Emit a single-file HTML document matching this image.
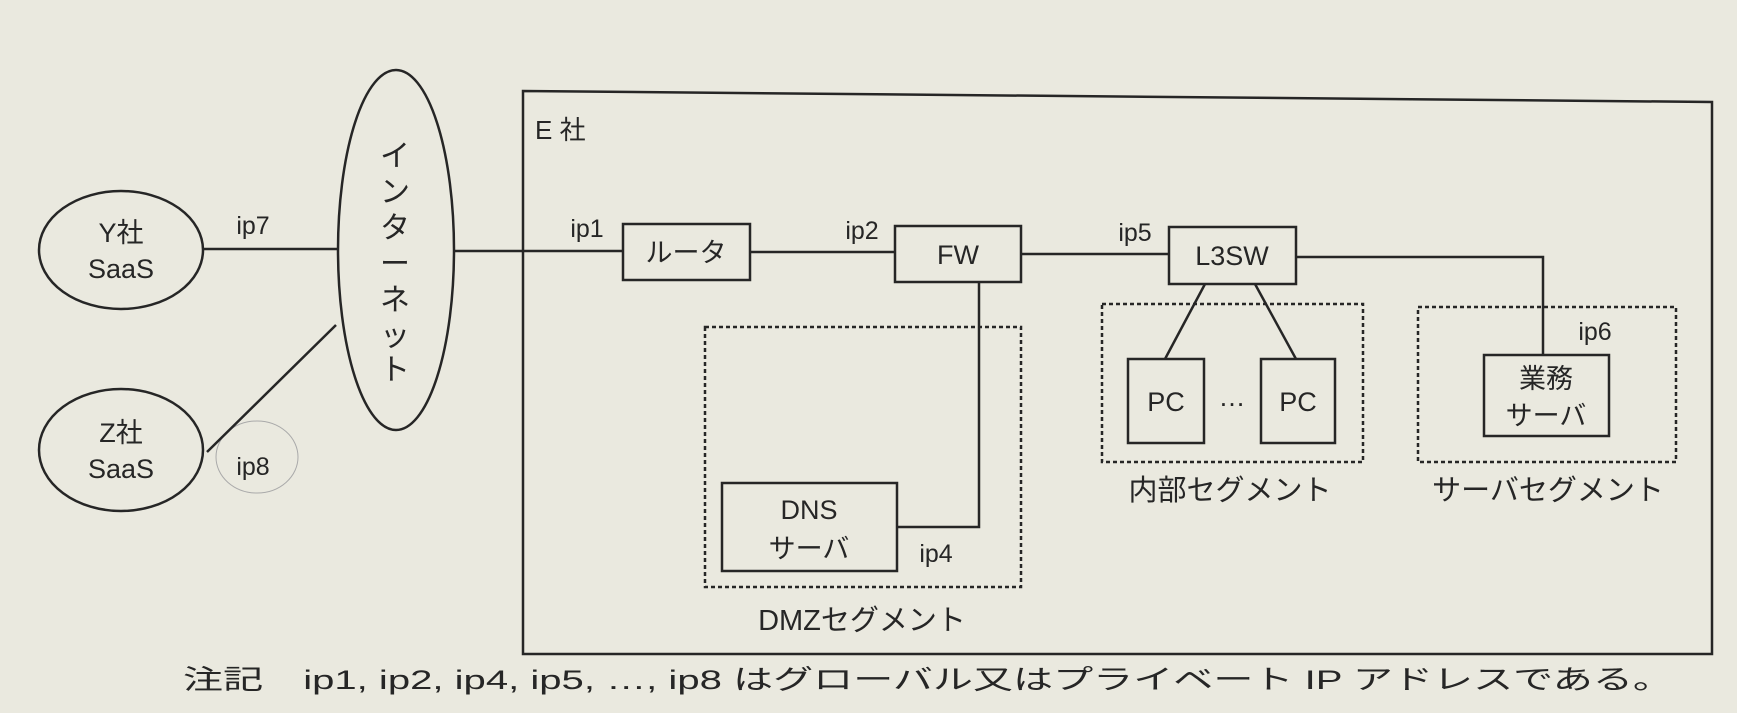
<!DOCTYPE html>
<html><head><meta charset="utf-8"><style>
html,body{margin:0;padding:0;background:#eae9df;}
svg{display:block}
text{font-family:"Liberation Sans","Noto Sans CJK JP",sans-serif;fill:#262626;}
</style></head><body>
<svg width="1737" height="713" viewBox="0 0 1737 713" xmlns="http://www.w3.org/2000/svg">
<rect width="1737" height="713" fill="#eae9df"/>
<g stroke="#262626" stroke-width="2.5" fill="none">
<polygon points="523,91 1712,102 1712,654 523,654"/>
<ellipse cx="121" cy="250" rx="82" ry="59"/>
<ellipse cx="121" cy="450" rx="82" ry="61"/>
<ellipse cx="396" cy="250" rx="58" ry="180"/>
<ellipse cx="257" cy="457" rx="41" ry="36" stroke="#aaa" stroke-width="1"/>
<line x1="203" y1="249" x2="338" y2="249"/>
<line x1="207" y1="452" x2="336" y2="325"/>
<line x1="454" y1="251" x2="623" y2="251"/>
<line x1="750" y1="252" x2="895" y2="252"/>
<line x1="1021" y1="254" x2="1169" y2="254"/>
<polyline points="1296,257 1543,257 1543,355"/>
<polyline points="979,282 979,527 897,527"/>
<line x1="1205" y1="284" x2="1165" y2="359"/>
<line x1="1255" y1="284" x2="1296" y2="359"/>
<rect x="623" y="224" width="127" height="56"/>
<rect x="895" y="226" width="126" height="56"/>
<rect x="1169" y="227" width="127" height="57"/>
<rect x="1484" y="355" width="125" height="81"/>
<rect x="1128" y="359" width="76" height="84"/>
<rect x="1261" y="359" width="74" height="84"/>
<rect x="722" y="483" width="175" height="88"/>
</g>
<g stroke="#262626" stroke-width="2.5" fill="none" stroke-dasharray="4,3">
<rect x="705" y="327" width="316" height="260"/>
<rect x="1102" y="304" width="261" height="158"/>
<rect x="1418" y="307" width="258" height="155"/>
</g>
<g font-size="25">
<text x="253" y="234" text-anchor="middle">ip7</text>
<text x="253" y="475" text-anchor="middle">ip8</text>
<text x="587" y="237" text-anchor="middle">ip1</text>
<text x="862" y="239" text-anchor="middle">ip2</text>
<text x="1135" y="241" text-anchor="middle">ip5</text>
<text x="1595" y="340" text-anchor="middle">ip6</text>
<text x="936" y="562" text-anchor="middle">ip4</text>
</g>
<g font-size="27" text-anchor="middle">
<text x="121" y="242">Y社</text>
<text x="121" y="278">SaaS</text>
<text x="121" y="442">Z社</text>
<text x="121" y="478">SaaS</text>
<text x="686" y="262">ルータ</text>
<text x="958" y="264">FW</text>
<text x="1232" y="265">L3SW</text>
<text x="1546" y="388">業務</text>
<text x="1546" y="425">サーバ</text>
<text x="1166" y="411">PC</text>
<text x="1298" y="411">PC</text>
<text x="1232" y="406">…</text>
<text x="809" y="519">DNS</text>
<text x="809" y="558">サーバ</text>
<text x="1230" y="500" font-size="29">内部セグメント</text>
<text x="1548" y="500" font-size="29">サーバセグメント</text>
<text x="862" y="630" font-size="29">DMZセグメント</text>
</g>
<g font-size="30" text-anchor="middle">
<text x="395" y="166">イ</text>
<text x="395" y="202">ン</text>
<text x="395" y="238">タ</text>
<text x="395" y="274">ー</text>
<text x="395" y="310">ネ</text>
<text x="395" y="346">ッ</text>
<text x="395" y="380">ト</text>
</g>
<text x="535" y="139" font-size="26">E 社</text>
<text x="183" y="689" font-size="27" textLength="1490" lengthAdjust="spacingAndGlyphs">注記　ip1, ip2, ip4, ip5, …, ip8 はグローバル又はプライベート IP アドレスである。</text>
</svg>
</body></html>
